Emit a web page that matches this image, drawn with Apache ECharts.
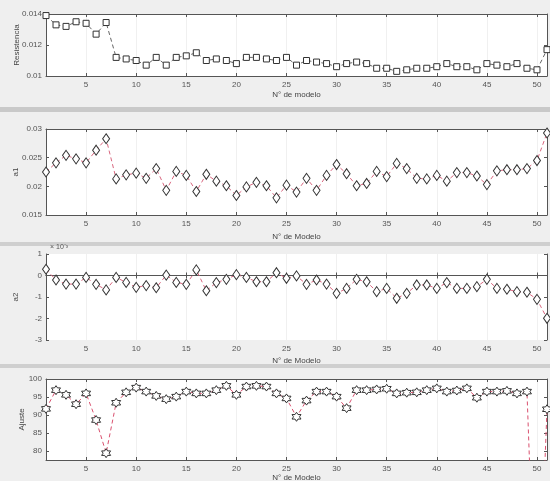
<!DOCTYPE html>
<html><head><meta charset="utf-8">
<script src="https://cdn.jsdelivr.net/npm/echarts@6/dist/echarts.min.js"></script>
<style>html,body{margin:0;padding:0;background:#efefef}#c{width:550px;height:481px}</style>
</head><body><div id="c"></div>
<script>
const modelos = Array.from({length:51},(_,i)=>i+1);
const xTicks = [5,10,15,20,25,30,35,40,45,50];
const resistencia = [0.0139,0.0133,0.0132,0.0135,0.0134,0.0127,0.01345,0.0112,0.0111,0.0110,0.0107,0.0112,0.0107,0.0112,0.0113,0.0115,0.0110,0.0111,0.0110,0.0108,0.0112,0.0112,0.0111,0.0110,0.0112,0.0107,0.0110,0.0109,0.0108,0.0106,0.0108,0.0109,0.0108,0.0105,0.0105,0.0103,0.0104,0.0105,0.0105,0.0106,0.0108,0.0106,0.0106,0.0104,0.0108,0.0107,0.0106,0.0108,0.0105,0.0104,0.0117];
const a1 = [0.0225,0.0241,0.0254,0.0248,0.0241,0.0263,0.0283,0.0213,0.0220,0.0223,0.0214,0.0231,0.0193,0.0226,0.0219,0.0191,0.0221,0.0209,0.0201,0.0184,0.0199,0.0207,0.0201,0.0180,0.0202,0.0190,0.0214,0.0193,0.0219,0.0238,0.0222,0.0201,0.0205,0.0226,0.0217,0.0240,0.0231,0.0214,0.0213,0.0219,0.0209,0.0224,0.0224,0.0218,0.0203,0.0227,0.0229,0.0229,0.0231,0.0245,0.0293];
const a2 = [0.29,-0.21,-0.40,-0.40,-0.09,-0.41,-0.67,-0.09,-0.32,-0.55,-0.47,-0.57,0.02,-0.32,-0.41,0.26,-0.71,-0.33,-0.18,0.04,-0.09,-0.29,-0.29,0.13,-0.13,-0.02,-0.41,-0.21,-0.40,-0.83,-0.60,-0.18,-0.29,-0.75,-0.60,-1.06,-0.83,-0.44,-0.44,-0.60,-0.33,-0.60,-0.60,-0.52,-0.18,-0.60,-0.64,-0.75,-0.78,-1.11,-1.99];
const ajuste = [91.7,96.9,95.6,93.0,96.0,88.6,79.4,93.4,96.3,97.6,96.5,95.3,94.4,95.1,96.5,96.0,96.0,96.9,98.1,95.6,97.9,98.1,97.9,96.0,94.6,89.5,94.0,96.5,96.5,95.1,91.9,96.9,96.9,97.1,97.3,96.0,96.2,96.3,96.9,97.4,96.5,96.8,97.4,94.8,96.5,96.5,96.7,96.0,96.5,20,91.6];
const yTicks1 = [0.01,0.012,0.014], yTicks2 = [0.015,0.02,0.025,0.03], yTicks3 = [-3,-2,-1,0,1], yTicks4 = [80,85,90,95,100];
const yLabels1 = ['0.01','0.012','0.014'], yLabels2 = ['0.015','0.02','0.025','0.03'];

const hex = 'path://M0,-10 L2.89,-5 L8.66,-5 L5.77,0 L8.66,5 L2.89,5 L0,10 L-2.89,5 L-8.66,5 L-5.77,0 L-8.66,-5 L-2.89,-5 Z';
const panels = [
  {top:14,h:62,data:resistencia,min:0.01,max:0.014,ticks:yTicks1,labels:yLabels1,name:'Resistencia',xname:'N° de modelo',sym:'rect',size:6,lc:'#666',nameGap:15,yGap:25},
  {top:129,h:86,data:a1,min:0.015,max:0.03,ticks:yTicks2,labels:yLabels2,name:'a1',xname:'N° de Modelo',sym:'diamond',size:[7,10],lc:'#d9677f',nameGap:18,yGap:26},
  {top:254,h:86,data:a2,min:-3,max:1,ticks:yTicks3,labels:null,name:'a2',xname:'N° de Modelo',sym:'diamond',size:[7,10],lc:'#d9677f',nameGap:17,yGap:26},
  {top:379,h:81,data:ajuste,min:77.5,max:100,ticks:yTicks4,labels:null,name:'Ajuste',xname:'N° de Modelo',sym:hex,size:9,lc:'#d9506e',nameGap:14,yGap:20}
];
const grid=[],xAxis=[],yAxis=[],series=[];
const axCol='#555', txt={color:'#555',fontSize:8,fontFamily:'Liberation Sans'};
panels.forEach((p,i)=>{
  grid.push({left:46,right:3,top:p.top,height:p.h,show:true,backgroundColor:'#fff',borderWidth:0,containLabel:false,outerBoundsMode:'none'});
  xAxis.push({type:'value',gridIndex:i,min:1,max:51,name:p.xname,nameLocation:'middle',nameGap:p.nameGap,nameMoveOverlap:false,nameTextStyle:{color:'#444',fontSize:8,fontFamily:'Liberation Sans'},
    axisLine:{lineStyle:{color:axCol}},axisTick:{inside:true,length:3,customValues:xTicks,lineStyle:{color:axCol}},
    axisLabel:Object.assign({customValues:xTicks,margin:5},txt),splitLine:{show:true,lineStyle:{color:'#f0f0f0',width:1}}});
  xAxis.push({type:'value',gridIndex:i,position:'top',min:1,max:51,axisLine:{show:true,lineStyle:{color:axCol}},axisTick:{inside:true,length:3,customValues:xTicks,lineStyle:{color:axCol}},axisLabel:{show:false},splitLine:{show:false}});
  yAxis.push({type:'value',gridIndex:i,min:p.min,max:p.max,name:p.name,nameLocation:'middle',nameGap:p.yGap,nameRotate:90,nameMoveOverlap:false,nameTextStyle:{color:'#444',fontSize:8,fontFamily:'Liberation Sans'},
    axisLine:{show:true,lineStyle:{color:axCol}},axisTick:{show:true,inside:true,length:3,customValues:p.ticks,lineStyle:{color:axCol}},
    axisLabel:Object.assign({customValues:p.ticks,margin:4,formatter:(v)=>{ if(p.labels){const k=p.ticks.findIndex(t=>Math.abs(t-v)<1e-9);return k>=0?p.labels[k]:'';} return String(Math.round(v));}},txt),
    splitLine:{show:false}});
  yAxis.push({type:'value',gridIndex:i,position:'right',min:p.min,max:p.max,axisLine:{show:true,lineStyle:{color:axCol}},axisTick:{show:true,inside:true,length:3,customValues:p.ticks,lineStyle:{color:axCol}},axisLabel:{show:false},splitLine:{show:false}});
  series.push({type:'line',xAxisIndex:2*i,yAxisIndex:2*i,data:modelos.map((m,k)=>[m,p.data[k]]),symbol:p.sym,symbolSize:p.size,showAllSymbol:true,clip:true,
    lineStyle:{color:p.lc,width:1,type:[4,3]},itemStyle:{color:'#fff',borderColor:'#333',borderWidth:1},animation:false,silent:true});
});
const chart = echarts.init(document.getElementById('c'),null,{renderer:'canvas'});
chart.setOption({backgroundColor:'#efefef',animation:false,grid,xAxis,yAxis,series,
  graphic:[
    {type:'rect',shape:{x:0,y:107,width:550,height:5},style:{fill:'#c9c9c9'},z:-1},
    {type:'rect',shape:{x:0,y:242,width:550,height:4},style:{fill:'#cfcfcf'},z:-1},
    {type:'rect',shape:{x:0,y:364,width:550,height:4},style:{fill:'#cfcfcf'},z:-1},
    {type:'text',left:50,top:244,style:{text:'× 10⁻³',fill:'#555',fontSize:7,fontFamily:'Liberation Sans'}}
  ]});
</script></body></html>
